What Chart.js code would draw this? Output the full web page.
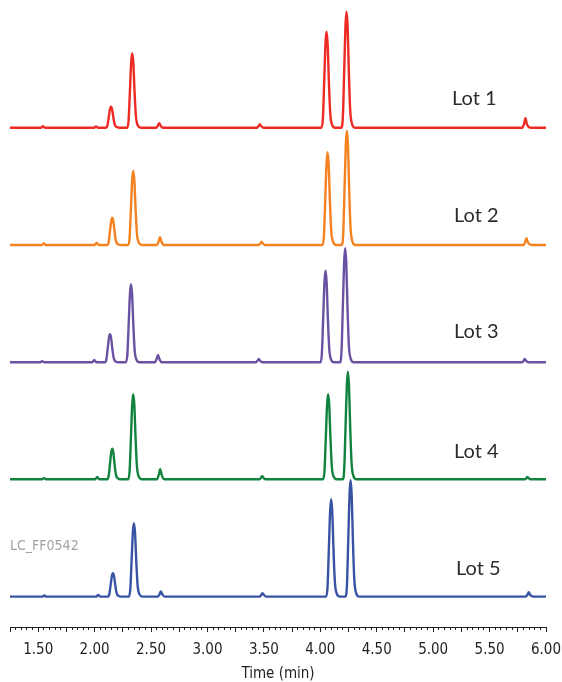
<!DOCTYPE html>
<html>
<head>
<meta charset="utf-8">
<script src="https://cdn.jsdelivr.net/npm/chart.js@4.4.1/dist/chart.umd.min.js"></script>
<style>
  html, body { margin: 0; padding: 0; background: #ffffff; }
  #wrap { position: relative; width: 562px; height: 682px; overflow: hidden; }
  canvas { position: absolute; left: 0; top: 0; }
  .lot { position: absolute; font-family: Lato, "Open Sans", sans-serif; font-size: 20px; color: #2b2b2b; line-height: 1; white-space: nowrap; }
  .code { position: absolute; font-family: "Liberation Sans Narrow", "DejaVu Sans Condensed", Roboto, sans-serif; font-size: 14px; color: #a3a3a3; line-height: 1; white-space: nowrap; }
</style>
</head>
<body>
<div id="wrap">
  <canvas id="c" width="562" height="682"></canvas>
  <div class="lot" style="left:452px; top:87px;">Lot 1</div>
  <div class="lot" style="left:454px; top:204px;">Lot 2</div>
  <div class="lot" style="left:454px; top:320px;">Lot 3</div>
  <div class="lot" style="left:454px; top:440px;">Lot 4</div>
  <div class="lot" style="left:456px; top:557px;">Lot 5</div>
  <div class="code" style="left:10px; top:538px;">LC_FF0542</div>
</div>
<script>
// ---- Data: [time (min), signal] ----
const lotNames = ['Lot 1', 'Lot 2', 'Lot 3', 'Lot 4', 'Lot 5'];
const xTickLabels = ['1.50','2.00','2.50','3.00','3.50','4.00','4.50','5.00','5.50','6.00'];

const lot1 = [
  [1.25,0],[1.525,0],[1.542,1.4],[1.56,0],
  [1.995,0],[2.012,1.2],[2.03,0],
  [2.100,0],[2.113,2.1],[2.125,10.5],[2.136,18.5],[2.145,21],[2.155,18.3],[2.166,10.1],[2.178,3.2],[2.195,0.6],[2.22,0],
  [2.288,0],[2.301,7.4],[2.313,37.2],[2.324,65.5],[2.333,74.4],[2.343,64.7],[2.354,35.7],[2.366,11.2],[2.383,2.2],[2.408,0],
  [2.545,0],[2.56,2],[2.572,4.4],[2.585,2],[2.605,0],
  [3.44,0],[3.452,1.6],[3.464,3.5],[3.476,1.6],[3.495,0],
  [4.010,0],[4.023,9.6],[4.035,48],[4.046,84.5],[4.055,96],[4.065,83.5],[4.076,46.1],[4.088,14.4],[4.105,2.9],[4.13,0],
  [4.187,0],[4.200,11.6],[4.212,58],[4.223,102.1],[4.232,116],[4.242,100.9],[4.253,55.7],[4.265,17.4],[4.282,3.5],[4.307,0],
  [5.79,0],[5.805,3.5],[5.818,9.4],[5.83,3.8],[5.85,0.4],[5.87,0],
  [6.0,0]
];
const lot2 = [
  [1.25,0],[1.532,0],[1.55,1.5],[1.567,0],
  [2.0,0],[2.018,2.3],[2.036,0],
  [2.111,0],[2.124,2.7],[2.136,13.7],[2.147,24],[2.156,27.3],[2.166,23.8],[2.177,13.1],[2.189,4.1],[2.206,0.8],[2.231,0],
  [2.297,0],[2.310,7.4],[2.322,37.2],[2.333,65.4],[2.342,74.3],[2.352,64.6],[2.363,35.7],[2.375,11.1],[2.392,2.2],[2.417,0],
  [2.552,0],[2.567,3.5],[2.579,7.7],[2.592,3.5],[2.612,0],
  [3.455,0],[3.467,1.5],[3.479,3.3],[3.491,1.5],[3.51,0],
  [4.019,0],[4.032,9.3],[4.044,46.4],[4.055,81.6],[4.064,92.7],[4.074,80.6],[4.085,44.5],[4.097,13.9],[4.114,2.8],[4.139,0],
  [4.190,0],[4.203,11.4],[4.215,57.2],[4.226,100.6],[4.235,114.3],[4.245,99.4],[4.256,54.9],[4.268,17.1],[4.285,3.4],[4.31,0],
  [5.8,0],[5.814,2.6],[5.827,6.7],[5.839,2.8],[5.86,0.3],[5.88,0],
  [6.0,0]
];
const lot3 = [
  [1.25,0],[1.518,0],[1.535,1.2],[1.552,0],
  [1.979,0],[1.997,2.3],[2.015,0],
  [2.091,0],[2.104,2.8],[2.116,14],[2.127,24.6],[2.136,28],[2.146,24.4],[2.157,13.4],[2.169,4.2],[2.186,0.8],[2.211,0],
  [2.277,0],[2.290,7.8],[2.302,39],[2.313,68.6],[2.322,78],[2.332,67.9],[2.343,37.4],[2.355,11.7],[2.372,2.3],[2.397,0],
  [2.534,0],[2.549,3.3],[2.561,7.3],[2.574,3.3],[2.594,0],
  [3.43,0],[3.443,1.5],[3.455,3.3],[3.467,1.5],[3.486,0],
  [4.001,0],[4.014,9.2],[4.026,45.8],[4.037,80.6],[4.046,91.6],[4.056,79.7],[4.067,44],[4.079,13.7],[4.096,2.7],[4.121,0],
  [4.175,0],[4.188,11.4],[4.200,57],[4.211,100.3],[4.220,114],[4.230,99.2],[4.241,54.7],[4.253,17.1],[4.270,3.4],[4.295,0],
  [5.79,0],[5.801,1.4],[5.812,3.3],[5.824,1.4],[5.845,0],
  [6.0,0]
];
const lot4 = [
  [1.25,0],[1.532,0],[1.55,1.2],[1.567,0],
  [2.005,0],[2.023,2.3],[2.041,0],
  [2.111,0],[2.124,3.1],[2.136,15.3],[2.147,26.9],[2.156,30.6],[2.166,26.6],[2.177,14.7],[2.189,4.6],[2.206,0.9],[2.231,0],
  [2.297,0],[2.310,8.5],[2.322,42.5],[2.333,74.8],[2.342,85],[2.352,74],[2.363,40.8],[2.375,12.8],[2.392,2.6],[2.417,0],
  [2.553,0],[2.568,4.5],[2.581,10],[2.594,4.5],[2.615,0],
  [3.46,0],[3.473,1.4],[3.485,3],[3.497,1.4],[3.516,0],
  [4.024,0],[4.037,8.5],[4.049,42.5],[4.060,74.8],[4.069,85],[4.079,74],[4.090,40.8],[4.102,12.8],[4.119,2.6],[4.144,0],
  [4.199,0],[4.212,10.8],[4.224,53.8],[4.235,94.7],[4.244,107.6],[4.254,93.6],[4.265,51.6],[4.277,16.1],[4.294,3.2],[4.319,0],
  [5.815,0],[5.825,1],[5.835,2.3],[5.846,1],[5.865,0],
  [6.0,0]
];
const lot5 = [
  [1.25,0],[1.538,0],[1.555,1.2],[1.572,0],
  [2.015,0],[2.032,1.7],[2.05,0],
  [2.117,0],[2.130,2.4],[2.142,11.8],[2.153,20.7],[2.162,23.5],[2.172,20.4],[2.183,11.3],[2.195,3.5],[2.212,0.7],[2.237,0],
  [2.303,0],[2.316,7.4],[2.328,36.8],[2.339,64.7],[2.348,73.5],[2.358,63.9],[2.369,35.3],[2.381,11],[2.398,2.2],[2.423,0],
  [2.56,0],[2.575,2.3],[2.587,5.2],[2.6,2.3],[2.62,0],
  [3.463,0],[3.476,1.6],[3.488,3.5],[3.5,1.6],[3.52,0],
  [4.051,0],[4.064,9.7],[4.076,48.7],[4.087,85.6],[4.096,97.3],[4.106,84.7],[4.117,46.7],[4.129,14.6],[4.146,2.9],[4.171,0],
  [4.223,0],[4.236,11.7],[4.248,58.3],[4.259,102.5],[4.268,116.5],[4.278,101.4],[4.289,55.9],[4.301,17.5],[4.318,3.5],[4.343,0],
  [5.82,0],[5.835,1.8],[5.847,4.5],[5.859,1.8],[5.88,0.2],[5.9,0],
  [6.0,0]
];

// ---- Presentation (stack offsets, colours) ----
const traces = [lot1, lot2, lot3, lot4, lot5];
const stackOffsets = [499.3, 382.0, 264.7, 147.7, 30.4];
const colors = ['#ee2a24', '#f58220', '#6a52a3', '#12833f', '#3953a4'];
const axisFont = { family: '"Liberation Sans Narrow", "DejaVu Sans Condensed", Roboto, sans-serif', size: 15 };

const datasets = traces.map((tr, i) => ({
  label: lotNames[i],
  data: tr.map(p => ({ x: p[0], y: p[1] + stackOffsets[i] })),
  borderColor: colors[i],
  backgroundColor: colors[i],
  borderWidth: 2.4,
  pointRadius: 0,
  fill: false,
  cubicInterpolationMode: 'monotone',
  borderJoinStyle: 'round',
  borderCapStyle: 'round'
}));

const labelFor = (v) => {
  const idx = Math.round((v - 1.5) / 0.5);
  const near = Math.abs(v - (1.5 + idx * 0.5)) < 1e-6;
  return (near && idx >= 0 && idx < xTickLabels.length) ? xTickLabels[idx] : '';
};

new Chart(document.getElementById('c'), {
  type: 'line',
  data: { datasets },
  options: {
    responsive: false,
    animation: false,
    events: [],
    layout: { padding: { left: 10, right: 16, top: 0, bottom: -1 } },
    plugins: { legend: { display: false }, tooltip: { enabled: false } },
    scales: {
      x: {
        type: 'linear',
        min: 1.25, max: 6.0,
        grid: { drawOnChartArea: false, tickLength: 3, tickColor: '#231f20', tickWidth: 1 },
        border: { display: true, color: '#231f20', width: 1 },
        ticks: { stepSize: 0.05, autoSkip: false, display: false, maxTicksLimit: 200 },
        title: { display: true, text: 'Time (min)', color: '#231f20', font: axisFont, padding: { top: 35, bottom: 0 } }
      },
      x2: {
        type: 'linear',
        axis: 'x',
        position: { y: 0 },
        min: 1.25, max: 6.0,
        grid: { drawOnChartArea: false, tickLength: 5, tickColor: '#231f20', tickWidth: 1 },
        border: { display: false },
        ticks: { stepSize: 0.25, autoSkip: false, display: false }
      },
      x3: {
        type: 'linear',
        axis: 'x',
        position: { y: -14 },
        min: 1.25, max: 6.0,
        grid: { display: false, drawTicks: false, drawOnChartArea: false },
        border: { display: false },
        ticks: {
          stepSize: 0.5,
          includeBounds: false,
          autoSkip: false,
          maxRotation: 0,
          padding: 0,
          color: '#231f20',
          font: axisFont,
          callback: labelFor
        }
      },
      y: {
        type: 'linear',
        display: false,
        min: 0, max: 627
      }
    }
  }
});
</script>
</body>
</html>
